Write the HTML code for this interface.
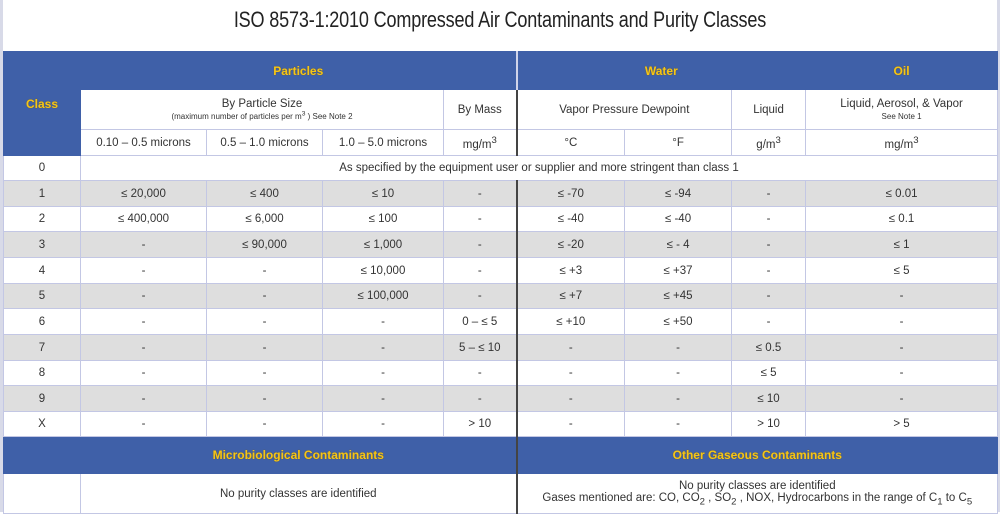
<!DOCTYPE html>
<html><head><meta charset="utf-8"><style>
body{margin:0;width:1000px;height:512px;background:#fff;overflow:hidden;font-family:"Liberation Sans",sans-serif;position:relative}
.lb{position:absolute;left:0;top:0;width:3px;height:512px;background:#d8dae8}
.rb{position:absolute;right:0;top:0;width:3px;height:512px;background:#d8dae8}
h1{position:absolute;top:7px;left:0;width:1000px;text-align:center;margin:0;font-weight:normal;font-size:22px;color:#222;transform:scaleX(0.82);transform-origin:500px 0;letter-spacing:-0.2px}
table{position:absolute;left:3px;top:51px;width:994px;border-collapse:collapse;table-layout:fixed}
td{border:1px solid #c3c7e4;text-align:center;font-size:11.5px;color:#333;padding:0;overflow:hidden;white-space:nowrap}
.b{background:#3f60a8;color:#f5c518;font-weight:bold;font-size:12px;text-shadow:0 0 1px #7a5a00;border-color:#3f60a8}
.g td{background:#dedede}
td.d{border-left:2px solid #444}
td.bl{border-left:2px solid #d0d4ea}
.s{font-size:8px}
</style></head><body>
<div class="lb"></div><div class="rb"></div>
<h1>ISO 8573-1:2010 Compressed Air Contaminants and Purity Classes</h1>
<table>
<colgroup><col style="width:77px"><col style="width:126px"><col style="width:116px"><col style="width:121px"><col style="width:73px"><col style="width:108px"><col style="width:107px"><col style="width:74px"><col style="width:192px"></colgroup>
<tr style="height:38px"><td class="b" rowspan="3">Class</td><td class="b" colspan="4">Particles</td><td class="b bl" colspan="3">Water</td><td class="b">Oil</td></tr>
<tr style="height:40px"><td colspan="3">By Particle Size<br><span class="s">(maximum number of particles per m<sup>3</sup> ) See Note 2</span></td><td>By Mass</td><td colspan="2" class="d">Vapor Pressure Dewpoint</td><td>Liquid</td><td>Liquid, Aerosol, &amp; Vapor<br><span class="s">See Note 1</span></td></tr>
<tr style="height:26px"><td>0.10 – 0.5 microns</td><td>0.5 – 1.0 microns</td><td>1.0 – 5.0 microns</td><td>mg/m<sup>3</sup></td><td class="d">°C</td><td>°F</td><td>g/m<sup>3</sup></td><td>mg/m<sup>3</sup></td></tr>
<tr style="height:25px"><td>0</td><td colspan="8">As specified by the equipment user or supplier and more stringent than class 1</td></tr>
<tr class="g" style="height:26px"><td>1</td><td>≤ 20,000</td><td>≤ 400</td><td>≤ 10</td><td>-</td><td class="d">≤ -70</td><td>≤ -94</td><td>-</td><td>≤ 0.01</td></tr>
<tr style="height:25px"><td>2</td><td>≤ 400,000</td><td>≤ 6,000</td><td>≤ 100</td><td>-</td><td class="d">≤ -40</td><td>≤ -40</td><td>-</td><td>≤ 0.1</td></tr>
<tr class="g" style="height:26px"><td>3</td><td>-</td><td>≤ 90,000</td><td>≤ 1,000</td><td>-</td><td class="d">≤ -20</td><td>≤ - 4</td><td>-</td><td>≤ 1</td></tr>
<tr style="height:26px"><td>4</td><td>-</td><td>-</td><td>≤ 10,000</td><td>-</td><td class="d">≤ +3</td><td>≤ +37</td><td>-</td><td>≤ 5</td></tr>
<tr class="g" style="height:25px"><td>5</td><td>-</td><td>-</td><td>≤ 100,000</td><td>-</td><td class="d">≤ +7</td><td>≤ +45</td><td>-</td><td>-</td></tr>
<tr style="height:26px"><td>6</td><td>-</td><td>-</td><td>-</td><td>0 – ≤ 5</td><td class="d">≤ +10</td><td>≤ +50</td><td>-</td><td>-</td></tr>
<tr class="g" style="height:26px"><td>7</td><td>-</td><td>-</td><td>-</td><td>5 – ≤ 10</td><td class="d">-</td><td>-</td><td>≤ 0.5</td><td>-</td></tr>
<tr style="height:25px"><td>8</td><td>-</td><td>-</td><td>-</td><td>-</td><td class="d">-</td><td>-</td><td>≤ 5</td><td>-</td></tr>
<tr class="g" style="height:26px"><td>9</td><td>-</td><td>-</td><td>-</td><td>-</td><td class="d">-</td><td>-</td><td>≤ 10</td><td>-</td></tr>
<tr style="height:25px"><td>X</td><td>-</td><td>-</td><td>-</td><td>&gt; 10</td><td class="d">-</td><td>-</td><td>&gt; 10</td><td>&gt; 5</td></tr>
<tr style="height:37px"><td class="b"></td><td class="b" colspan="4">Microbiological Contaminants</td><td class="b d" colspan="4">Other Gaseous Contaminants</td></tr>
<tr style="height:40px"><td></td><td colspan="4">No purity classes are identified</td><td colspan="4" class="d">No purity classes are identified<br>Gases mentioned are: CO, CO<sub>2</sub> , SO<sub>2</sub> , NOX, Hydrocarbons in the range of C<sub>1</sub> to C<sub>5</sub></td></tr>
</table>
</body></html>
